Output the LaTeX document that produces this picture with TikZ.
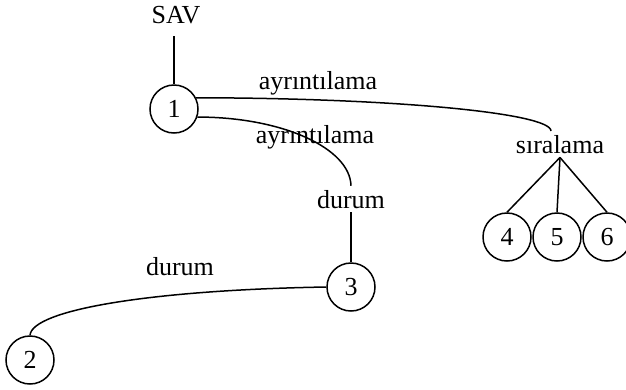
\documentclass[tikz,border=0pt]{standalone}
\usepackage{fontspec}
\setmainfont{Liberation Serif}
\begin{document}
\begin{tikzpicture}[x=1pt,y=-1pt,
  every node/.style={font=\fontsize{26}{30}\selectfont},
  lbl/.style={anchor=base,inner sep=4pt},
  state/.style={draw,circle,line width=1.5pt,minimum size=48pt,inner sep=0pt},
  link/.style={line width=1.5pt}]
\useasboundingbox (0,0) rectangle (626,389);

% labels
\node[lbl] (sav)  at (176,23)  {SAV};
\node[lbl] (ay1)  at (318,89)  {ayrıntılama};
\node[lbl] (ay2)  at (315,143) {ayrıntılama};
\node[lbl] (dur1) at (351,208) {durum};
\node[lbl] (dur2) at (180,275) {durum};
\node[lbl] (sir)  at (560,153) {sıralama};

% states
\node[state] (c1) at (174,109) {1};
\node[state] (c3) at (351,287) {3};
\node[state] (c2) at (30,360)  {2};
\node[state] (c4) at (507,237) {4};
\node[state] (c5) at (557,237) {5};
\node[state] (c6) at (607,237) {6};

% connectors
\coordinate (savfoot) at (174,36);
\coordinate (sirtop) at (551,131);
\draw[link] (savfoot) -- (c1.north);
\draw[link] (c1.27) .. controls (393,98) and (551,113) .. (sirtop);
\draw[link] (c1.-19) .. controls (282,117) and (350,148) .. (dur1.north);
\draw[link] (dur1.south) -- (c3.north);
\draw[link] (c3.west) .. controls (150,290) and (32,310) .. (c2.north);
\draw[link] (sir.south) -- (c4.north);
\draw[link] (sir.south) -- (c5.north);
\draw[link] (sir.south) -- (c6.north);
\end{tikzpicture}
\end{document}
